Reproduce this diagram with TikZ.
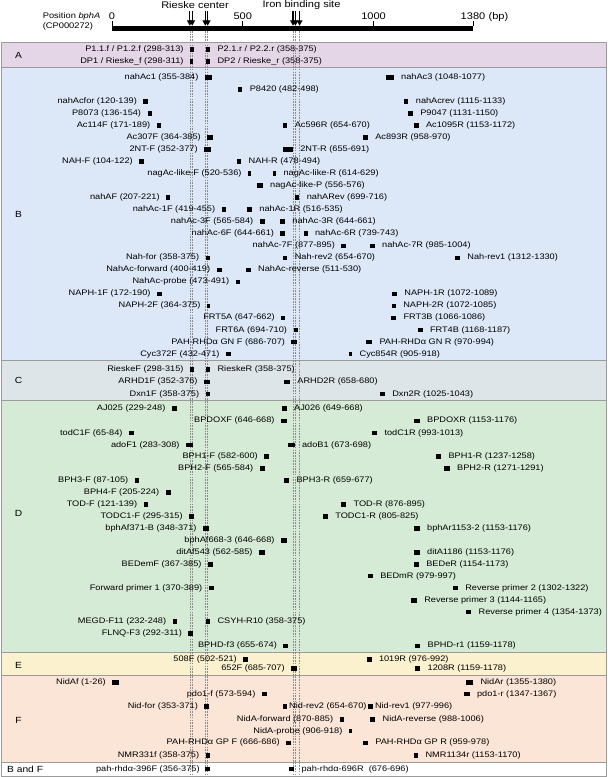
\documentclass[tikz,border=0pt]{standalone}
\usepackage{fontspec}
\setmainfont{Liberation Sans}[FakeStretch=1.15]
\usetikzlibrary{arrows.meta}
\definecolor{cA}{RGB}{229,214,231}
\definecolor{cB}{RGB}{220,231,247}
\definecolor{cC}{RGB}{221,229,232}
\definecolor{cD}{RGB}{213,235,214}
\definecolor{cE}{RGB}{251,241,207}
\definecolor{cF}{RGB}{251,229,215}
\definecolor{pborder}{RGB}{155,155,155}
\definecolor{guide}{RGB}{140,140,140}
\newcommand{\lblfont}{\fontsize{8}{9.6}\selectfont}
\newcommand{\hdrfont}{\fontsize{9.6}{11}\selectfont}
\newcommand{\posfont}{\fontsize{8.1}{9.6}\selectfont}
\newcommand{\letfont}{\fontsize{8.9}{10}\selectfont}
% primer with label on the left: [gap]{id}{y}{start}{end}{text}
\newcommand{\primL}[6][6.5]{%
  \pgfmathsetmacro\pxa{112+#4*0.2616}%
  \pgfmathsetmacro\pxb{112+#5*0.2616}%
  \pgfmathsetmacro\pw{max(3.4,\pxb-\pxa)}%
  \pgfmathsetmacro\pxc{(\pxa+\pxb)/2}%
  \node[prim, minimum width=\pw pt] (#2) at (\pxc,#3) {};
  \node[lab, anchor=east] (#2t) at ([xshift=-#1pt]#2.west) {#6};
}
% primer with label on the right
\newcommand{\primR}[6][7.5]{%
  \pgfmathsetmacro\pxa{112+#4*0.2616}%
  \pgfmathsetmacro\pxb{112+#5*0.2616}%
  \pgfmathsetmacro\pw{max(3.4,\pxb-\pxa)}%
  \pgfmathsetmacro\pxc{(\pxa+\pxb)/2}%
  \node[prim, minimum width=\pw pt] (#2) at (\pxc,#3) {};
  \node[lab, anchor=west] (#2t) at ([xshift=#1pt]#2.east) {#6};
}
\begin{document}
\begin{tikzpicture}[x=1pt,y=-1pt,
  prim/.style={fill=black, inner sep=0pt, outer sep=0pt, minimum height=4.4pt},
  lab/.style={font=\lblfont, inner sep=0pt, outer sep=0pt, text=black},
  hdr/.style={font=\hdrfont, inner sep=0pt},
  posl/.style={font=\posfont, inner sep=0pt, anchor=west},
  plet/.style={font=\letfont, inner sep=0pt},
  panel/.style={draw=pborder, line width=0.9pt},
  guideline/.style={draw=guide, line width=0.45pt, dash pattern=on 1.6pt off 1.1pt},
  markarrow/.style={line width=1.35pt, -{Triangle[width=5.6pt,length=5.5pt]}},
  tick/.style={line width=0.8pt},
]
\useasboundingbox (0,0) rectangle (608,777);
\fill[white] (0,0) rectangle (608,777);

% ---------- header ----------
\node[hdr] (rc) at (195,5) {Rieske center};
\node[hdr] (ib) at (301.5,5) {Iron binding site};
\node[posl] (pos1) at (42.6,16) {Position \textit{bphA}};
\node[posl] (pos2) at (42.6,26.5) {(CP000272)};
\node[fill=black, minimum width=361.2pt, minimum height=5pt, inner sep=0pt] (bar) at (292.6,28.3) {};
\node[hdr] (t0) at (112,16) {0};
\node[hdr] (t500) at (242.8,16) {500};
\node[hdr] (t1000) at (373.6,16) {1000};
\node[hdr] (t1380) at (473,16) {1380};
\node[hdr, anchor=base west] (tbp) at ([xshift=3pt]t1380.base east) {(bp)};
\draw[tick] (112,21) -- (112,26);
\draw[tick] (242.8,21) -- (242.8,26);
\draw[tick] (373.6,21) -- (373.6,26);
\draw[tick] (473,21) -- (473,26);

% ---------- panels ----------
\path[panel, fill=cA] (1,42) rectangle (606.6,67.5);
\path[panel, fill=cB] (1,67.5) rectangle (606.6,360.7);
\path[panel, fill=cC] (1,360.7) rectangle (606.6,400.7);
\path[panel, fill=cD] (1,400.7) rectangle (606.6,652.7);
\path[panel, fill=cE] (1,652.7) rectangle (606.6,675.3);
\path[panel, fill=cF] (1,675.3) rectangle (606.6,762);
\path[panel, fill=white] (1,762) rectangle (606.6,776.3);
\node[plet] (LA) at (18.5,55) {A};
\node[plet] (LB) at (18.5,214.5) {B};
\node[plet] (LC) at (18.5,380.5) {C};
\node[plet] (LD) at (18.5,513) {D};
\node[plet] (LE) at (18.5,665.5) {E};
\node[plet] (LF) at (18.5,720) {F};
\node[plet, anchor=west] (LBF) at (7,769) {B and F};

% ---------- arrows and guide lines ----------
\foreach \gx/\gn in {189.8/1,192.2/2,205.3/3,207.7/4,293.0/5,295.4/6,299.6/7}{
  \coordinate (as\gn) at (\gx,11);
  \coordinate (ae\gn) at (\gx,25.8);
  \coordinate (gs\gn) at (\gx,31);
  \coordinate (ge\gn) at (\gx,776);
  \draw[guideline] (gs\gn) -- (ge\gn);
  \draw[markarrow] (as\gn) -- (ae\gn);
}

% ---------- A ----------
\primL{a1}{49.5}{298}{313}{P1.1.f / P1.2.f (298-313)}
\primR{a2}{49.5}{358}{375}{P2.1.r / P2.2.r (358-375)}
\primL{a3}{61.5}{298}{311}{DP1 / Rieske\_f (298-311)}
\primR{a4}{61.5}{358}{375}{DP2 / Rieske\_r (358-375)}

% ---------- B ----------
\primL{b1}{77.3}{355}{384}{nahAc1 (355-384)}
\primR{b2}{77.3}{1048}{1077}{nahAc3 (1048-1077)}
\primR{b3}{89.33}{482}{498}{P8420 (482-498)}
\primL{b4}{101.36}{120}{139}{nahAcfor (120-139)}
\primR{b5}{101.36}{1115}{1133}{nahAcrev (1115-1133)}
\primL{b6}{113.39}{136}{154}{P8073 (136-154)}
\primR{b7}{113.39}{1131}{1150}{P9047 (1131-1150)}
\primL{b8}{125.42}{171}{189}{Ac114F (171-189)}
\primR{b9}{125.42}{654}{670}{Ac596R (654-670)}
\primR{b10}{125.42}{1153}{1172}{Ac1095R (1153-1172)}
\primL{b11}{137.45}{364}{385}{Ac307F (364-385)}
\primR{b12}{137.45}{958}{978}{Ac893R (958-970)}
\primL{b13}{149.48}{352}{377}{2NT-F (352-377)}
\primR{b14}{149.48}{655}{691}{2NT-R (655-691)}
\primL{b15}{161.51}{104}{122}{NAH-F (104-122)}
\primR{b16}{161.51}{478}{494}{NAH-R (478-494)}
\primL{b17}{173.54}{520}{533}{nagAc-like-F (520-536)}
\primR{b18}{173.54}{614}{627}{nagAc-like-R (614-629)}
\primR{b19}{185.57}{556}{576}{nagAc-like-P (556-576)}
\primL{b20}{197.6}{207}{221}{nahAF (207-221)}
\primR{b21}{197.6}{699}{716}{nahARev (699-716)}
\primL{b22}{209.63}{419}{436}{nahAc-1F (419-455)}
\primR{b23}{209.63}{516}{535}{nahAc-1R (516-535)}
\primL{b24}{221.66}{565}{584}{nahAc-3F (565-584)}
\primR{b25}{221.66}{644}{661}{nahAc-3R (644-661)}
\primL{b26}{233.69}{644}{661}{nahAc-6F (644-661)}
\primR{b27}{233.69}{739}{743}{nahAc-6R (739-743)}
\primL{b28}{245.72}{877}{895}{nahAc-7F (877-895)}
\primR{b29}{245.72}{985}{1004}{nahAc-7R (985-1004)}
\primL{b30}{257.75}{358}{375}{Nah-for (358-375)}
\primR{b31}{257.75}{654}{670}{Nah-rev2 (654-670)}
\primR{b32}{257.75}{1312}{1330}{Nah-rev1 (1312-1330)}
\primL{b33}{269.78}{400}{419}{NahAc-forward (400-419)}
\primR{b34}{269.78}{511}{530}{NahAc-reverse (511-530)}
\primL{b35}{281.81}{473}{491}{NahAc-probe (473-491)}
\primL{b36}{293.84}{172}{190}{NAPH-1F (172-190)}
\primR{b37}{293.84}{1072}{1089}{NAPH-1R (1072-1089)}
\primL{b38}{305.87}{364}{375}{NAPH-2F (364-375)}
\primR{b39}{305.87}{1072}{1085}{NAPH-2R (1072-1085)}
\primL{b40}{317.9}{647}{662}{FRT5A (647-662)}
\primR{b41}{317.9}{1066}{1086}{FRT3B (1066-1086)}
\primL{b42}{329.93}{694}{710}{FRT6A (694-710)}
\primR{b43}{329.93}{1168}{1187}{FRT4B (1168-1187)}
\primL{b44}{341.96}{686}{707}{PAH-RHDα GN F (686-707)}
\primR{b45}{341.96}{970}{994}{PAH-RHDα GN R (970-994)}
\primL{b46}{353.99}{436}{453}{Cyc372F (432-471)}
\primR{b47}{353.99}{905}{918}{Cyc854R (905-918)}

% ---------- C ----------
\primL{c1}{369.3}{298}{315}{RieskeF (298-315)}
\primR{c2}{369.3}{358}{375}{RieskeR (358-375)}
\primL{c3}{381.7}{352}{376}{ARHD1F (352-376)}
\primR{c4}{381.7}{658}{680}{ARHD2R (658-680)}
\primL{c5}{394.0}{358}{375}{Dxn1F (358-375)}
\primR{c6}{394.0}{1025}{1043}{Dxn2R (1025-1043)}

% ---------- D ----------
\primL{d1}{408.3}{229}{248}{AJ025 (229-248)}
\primR{d2}{408.3}{649}{668}{AJ026 (649-668)}
\primL{d3}{420.7}{646}{668}{BPDOXF (646-668)}
\primR{d4}{420.7}{1153}{1176}{BPDOXR (1153-1176)}
\primL{d5}{433.0}{65}{84}{todC1F (65-84)}
\primR{d6}{433.0}{993}{1013}{todC1R (993-1013)}
\primL{d7}{445.0}{283}{308}{adoF1 (283-308)}
\primR{d8}{445.0}{673}{698}{adoB1 (673-698)}
\primL{d9}{456.5}{582}{600}{BPH1-F (582-600)}
\primR{d10}{456.5}{1237}{1258}{BPH1-R (1237-1258)}
\primL{d11}{468.3}{565}{584}{BPH2-F (565-584)}
\primR{d12}{468.3}{1271}{1291}{BPH2-R (1271-1291)}
\primL{d13}{480.3}{87}{105}{BPH3-F (87-105)}
\primR{d14}{480.3}{659}{677}{BPH3-R (659-677)}
\primL{d15}{492.3}{205}{224}{BPH4-F (205-224)}
\primL{d16}{504.5}{121}{139}{TOD-F (121-139)}
\primR{d17}{504.5}{876}{895}{TOD-R (876-895)}
\primL{d18}{516.5}{295}{315}{TODC1-F (295-315)}
\primR{d19}{516.5}{805}{825}{TODC1-R (805-825)}
\primL{d20}{528.3}{348}{371}{bphAf371-B (348-371)}
\primR{d21}{528.3}{1153}{1176}{bphAr1153-2 (1153-1176)}
\primL{d22}{540.5}{646}{668}{bphAf668-3 (646-668)}
\primL{d23}{552.3}{562}{585}{ditAf543 (562-585)}
\primR{d24}{552.3}{1153}{1176}{ditA1186 (1153-1176)}
\primL{d25}{564.3}{367}{385}{BEDemF (367-385)}
\primR{d26}{564.3}{1154}{1173}{BEDeR (1154-1173)}
\primR{d27}{576.0}{979}{997}{BEDmR (979-997)}
\primL{d28}{588.0}{370}{389}{Forward primer 1 (370-389)}
\primR{d29}{588.0}{1302}{1322}{Reverse primer 2 (1302-1322)}
\primR{d30}{600.3}{1144}{1165}{Reverse primer 3 (1144-1165)}
\primR{d31}{612.0}{1354}{1373}{Reverse primer 4 (1354-1373)}
\primL{d32}{621.3}{232}{248}{MEGD-F11 (232-248)}
\primR{d33}{621.3}{358}{375}{CSYH-R10 (358-375)}
\primL{d34}{633.3}{292}{311}{FLNQ-F3 (292-311)}
\primL{d35}{645.7}{655}{674}{BPHD-f3 (655-674)}
\primR{d36}{645.7}{1159}{1178}{BPHD-r1 (1159-1178)}

% ---------- E ----------
\primL{e1}{659.3}{502}{521}{508F (502-521)}
\primR{e2}{659.3}{976}{992}{1019R (976-992)}
\primL{e3}{668.3}{685}{707}{652F (685-707)}
\primR{e4}{668.3}{1159}{1178}{1208R (1159-1178)}

% ---------- F ----------
\primL{f1}{682.3}{1}{26}{NidAf (1-26)}
\primR{f2}{682.3}{1355}{1380}{NidAr (1355-1380)}
\primL{f3}{694.0}{573}{594}{pdo1-f (573-594)}
\primR{f4}{694.0}{1347}{1367}{pdo1-r (1347-1367)}
\primL{f5}{706.5}{353}{371}{Nid-for (353-371)}
\primR[2.5]{f6}{706.5}{654}{668}{Nid-rev2 (654-670)}
\primR[2.5]{f7}{706.5}{977}{996}{Nid-rev1 (977-996)}
\primL{f8}{719.3}{870}{885}{NidA-forward (870-885)}
\primR{f9}{719.3}{988}{1006}{NidA-reverse (988-1006)}
\primL{f10}{731.0}{906}{918}{NidA-probe (906-918)}
\primL{f11}{742.7}{666}{686}{PAH-RHDα GP F (666-686)}
\primR{f12}{742.7}{959}{978}{PAH-RHDα GP R (959-978)}
\primL{f13}{755.3}{358}{375}{NMR331f (358-375)}
\primR{f14}{755.3}{1153}{1170}{NMR1134r (1153-1170)}

% ---------- B and F ----------
\primL[5.5]{g1}{769.2}{356}{375}{pah-rhdα-396F (356-375)}
\primR{g2}{769.2}{676}{696}{pah-rhdα-696R\ \ (676-696)}
\end{tikzpicture}
\end{document}
